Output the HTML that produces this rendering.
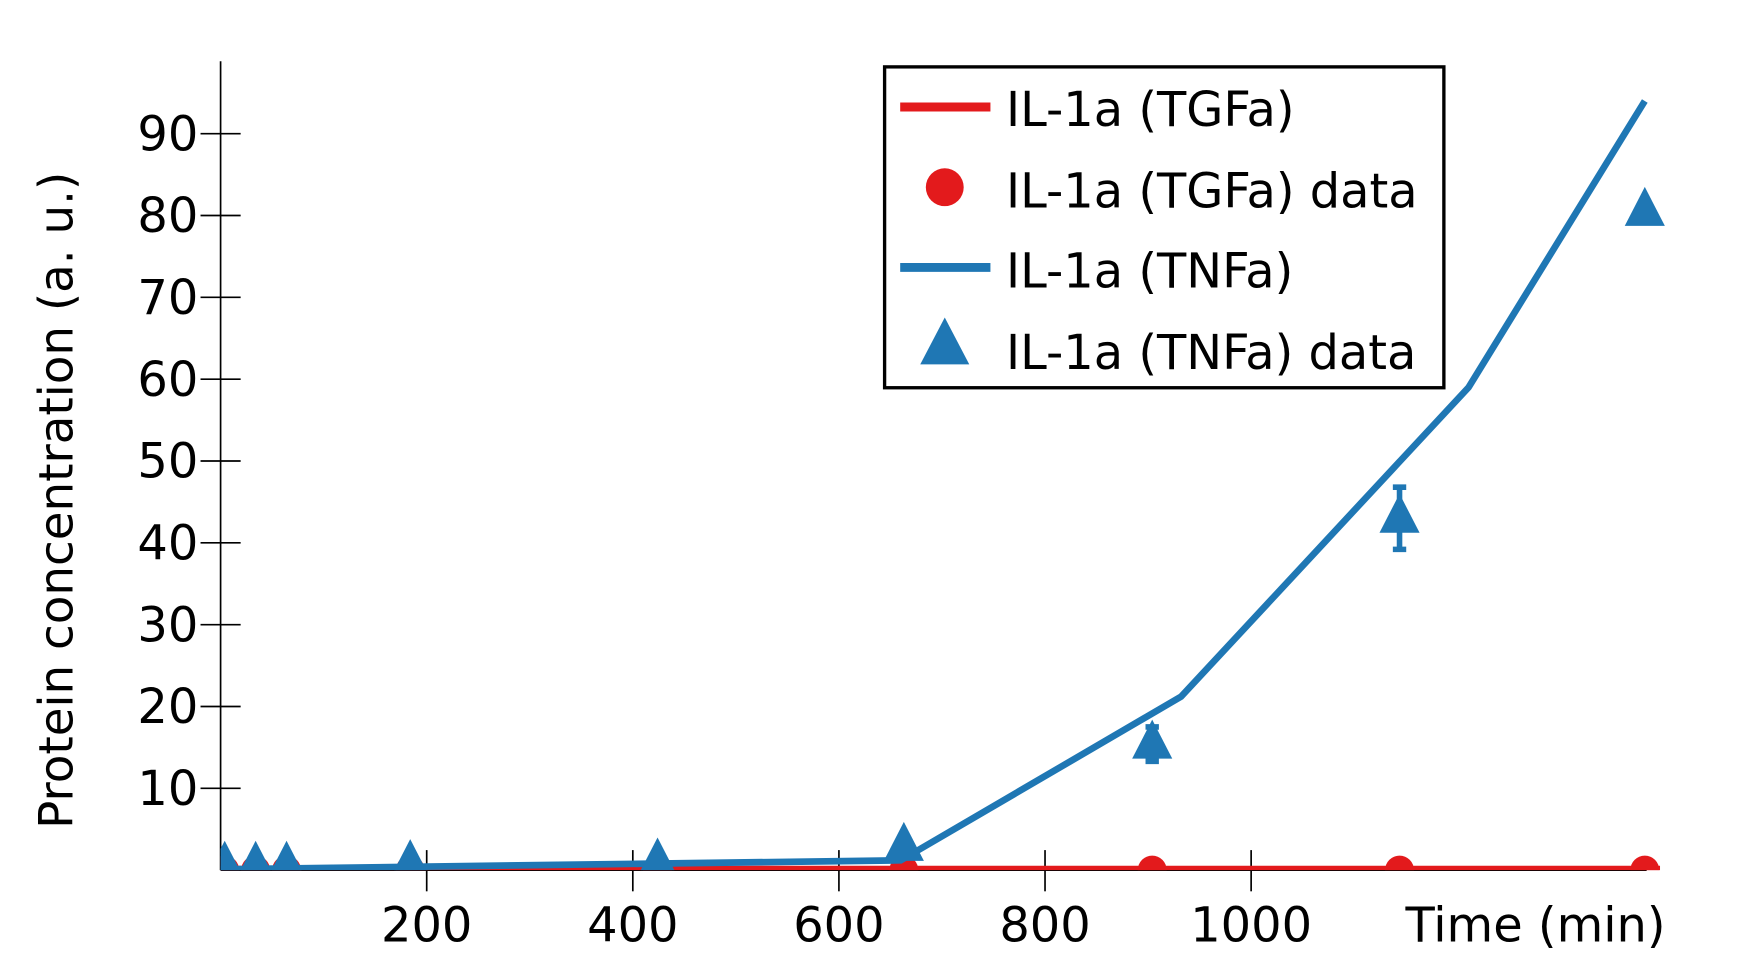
<!DOCTYPE html>
<html><head><meta charset="utf-8"><style>html,body{margin:0;padding:0;background:#fff}svg{display:block}text{font-family:"DejaVu Sans","Liberation Sans",sans-serif}</style></head>
<body>
<svg id="chart" width="1738" height="966" viewBox="0 0 1560 867" xmlns="http://www.w3.org/2000/svg">
<defs><clipPath id="clip"><rect x="198" y="40" width="1310" height="741"/></clipPath></defs>
<g id="axes"></g>
<g id="series" clip-path="url(#clip)"></g>
<g id="legend">
<rect x="794" y="60" width="502" height="288" fill="#fff" stroke="#000" stroke-width="3"/>
<line x1="808" y1="96" x2="889" y2="96" stroke="#e31a1c" stroke-width="8"/>
<text x="903" y="113" font-size="43">IL-1a (TGFa)</text>
<circle cx="848" cy="168" r="17" fill="#e31a1c"/>
<text x="903" y="186" font-size="43">IL-1a (TGFa) data</text>
<line x1="808" y1="240" x2="889" y2="240" stroke="#1f77b4" stroke-width="8"/>
<text x="903" y="258" font-size="43">IL-1a (TNFa)</text>
<polygon points="848,285 870,327 826,327" fill="#1f77b4"/>
<text x="903" y="331" font-size="43">IL-1a (TNFa) data</text>
</g>
</svg>
<script>
const xTicks = [200, 400, 600, 800, 1000];
const yTicks = [10, 20, 30, 40, 50, 60, 70, 80, 90];
const dataTimes = [4, 34, 64, 184, 424, 663, 904, 1144, 1382];
const tgfaData = [0, 0, 0, 0, 0, 0, 0, 0, 0];
const tnfaData = [0.6, 0.6, 0.6, 0.8, 1.0, 2.9, 15.4, 43, 80.5];
const tnfaErr = [0, 0, 0, 0, 0, 0, 2.1, 3.8, 0.5];
const modelTimes = [0, 660, 932, 1211, 1382];
const tgfaModel = [0, 0, 0, 0, 0];
const tnfaModel = [0.1, 1.2, 21.2, 59, 94];

const NS = "http://www.w3.org/2000/svg";
const X = t => 198 + t * 0.925;
const Y = v => 781 - v * 7.345;
function mk(tag, attrs, parent) { const e = document.createElementNS(NS, tag); for (const k in attrs) e.setAttribute(k, attrs[k]); parent.appendChild(e); return e; }
const axes = document.getElementById('axes'), ser = document.getElementById('series');

let e = mk('line', {x1:198,y1:55,x2:198,y2:781,stroke:'#000','stroke-width':1.5}, axes);


e = mk('line', {x1:198,y1:781,x2:1478,y2:781,stroke:'#000','stroke-width':1.5}, axes);


xTicks.forEach(t => {
  const l = mk('line', {x1:X(t),y1:763,x2:X(t),y2:800,stroke:'#000','stroke-width':1.5}, axes);
  
  
  const tx = mk('text', {x:X(t),y:845,'font-size':43,'text-anchor':'middle'}, axes);
  tx.textContent = t;
  
  
});
yTicks.forEach(v => {
  const l = mk('line', {x1:180,y1:Y(v),x2:216,y2:Y(v),stroke:'#000','stroke-width':1.5}, axes);
  
  
  const tx = mk('text', {x:178,y:Y(v)+15,'font-size':43,'text-anchor':'end'}, axes);
  tx.textContent = v;
  
  
});
e = mk('text', {x:1495,y:845,'font-size':43,'text-anchor':'end'}, axes);
e.textContent = 'Time (min)';


e = mk('text', {x:0,y:0,'font-size':42,'text-anchor':'middle',transform:'translate(65,449) rotate(-90)'}, axes);
e.textContent = 'Protein concentration (a. u.)';



e = mk('polyline', {points: modelTimes.map((t,i)=>X(t)+','+(Y(tgfaModel[i])-1)).join(' ') + ' 1490,' + (Y(tgfaModel[tgfaModel.length-1])-1), fill:'none',stroke:'#e31a1c','stroke-width':6}, ser);


dataTimes.forEach((t,i) => {
  const c = mk('circle', {cx:X(t),cy:Y(tgfaData[i]),r:13,fill:'#e31a1c'}, ser);
  
  
});
e = mk('polyline', {points: modelTimes.map((t,i)=>X(t)+','+Y(tnfaModel[i])).join(' '), fill:'none',stroke:'#1f77b4','stroke-width':6}, ser);


dataTimes.forEach((t,i) => {
  const x = X(t), y = Y(tnfaData[i]);
  if (tnfaErr[i] > 0) {
    const y1 = Y(tnfaData[i] + tnfaErr[i]), y2 = Y(tnfaData[i] - tnfaErr[i]);
    const g = mk('path', {d:`M${x},${y1}V${y2}M${x-6},${y1}H${x+6}M${x-6},${y2}H${x+6}`,stroke:'#1f77b4','stroke-width':5,fill:'none'}, ser);
    
    
  }
  const p = mk('polygon', {points:`${x},${y-22} ${x+18},${y+13} ${x-18},${y+13}`,fill:'#1f77b4'}, ser);
  
  
});
</script>
</body></html>
